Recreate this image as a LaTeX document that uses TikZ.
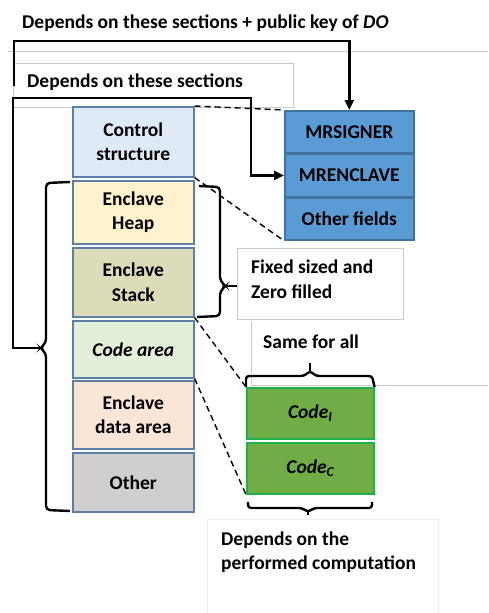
\documentclass[tikz,border=0pt]{standalone}
\usepackage{fontspec}
\setmainfont{Carlito}
\usetikzlibrary{arrows.meta}
\definecolor{secline}{HTML}{5B7FA6}
\definecolor{ctrlfill}{HTML}{DEEBF7}
\definecolor{heapfill}{HTML}{FFF2CC}
\definecolor{stackfill}{HTML}{DDDCBA}
\definecolor{codefill}{HTML}{E2EFDA}
\definecolor{datafill}{HTML}{FBE5D6}
\definecolor{otherfill}{HTML}{D0CECE}
\definecolor{sigfill}{HTML}{5B9BD5}
\definecolor{sigline}{HTML}{41719C}
\definecolor{greenfill}{HTML}{70AD47}
\definecolor{greenline}{HTML}{1FB04B}
\definecolor{frame}{HTML}{C8C8C8}
\tikzset{
  lbl/.style={font=\bfseries\fontsize{19.5}{24.5}\selectfont},
  section/.style={draw=secline, line width=1.6pt, align=center, inner sep=0pt,
    minimum width=121pt, lbl},
  sigbox/.style={draw=sigline, fill=sigfill, line width=1.6pt, align=center, inner sep=0pt,
    minimum width=129pt, minimum height=42pt, lbl},
  codebox/.style={draw=greenline, fill=greenfill, line width=1.6pt, inner sep=0pt,
    minimum width=127pt, minimum height=51pt, lbl},
  conn/.style={line width=2.4pt},
  tip/.style={-{Triangle[length=10pt,width=9pt]}},
  brace/.style={line width=2.4pt, rounded corners=4pt},
  dashlink/.style={line width=1.4pt, dash pattern=on 6pt off 4pt},
  textframe/.style={draw=frame, line width=0.8pt, fill=white},
  note/.style={lbl, align=left, anchor=west, inner sep=0pt}
}
\begin{document}
\begin{tikzpicture}[x=1pt,y=-1pt]
\useasboundingbox (0,0) rectangle (488,613);

% faint frames of the surrounding text boxes
\draw[frame, line width=0.8pt] (8,51) -- (488,51);
\draw[textframe] (13,63) rectangle (293,107);
\draw[textframe] (237,248) rectangle (403,319);
\draw[frame, line width=0.8pt] (251,322) -- (251,385) -- (488,385);
\draw[draw=black!7, line width=0.8pt] (207,613) -- (207,519) -- (438,519) -- (438,613);

% enclave memory sections
\node[section, fill=ctrlfill,  minimum height=70pt, anchor=north west] (ctrl)  at (72,106) {Control\\structure};
\node[section, fill=heapfill,  minimum height=63pt, anchor=north west] (heap)  at (72,180) {Enclave\\Heap};
\node[section, fill=stackfill, minimum height=69pt, anchor=north west] (stack) at (72,247) {Enclave\\Stack};
\node[section, fill=codefill,  minimum height=57pt, anchor=north west] (code)  at (72,320) {\itshape Code area};
\node[section, fill=datafill,  minimum height=68pt, anchor=north west] (data)  at (72,380) {Enclave\\data area};
\node[section, fill=otherfill, minimum height=59pt, anchor=north west] (other) at (72,452) {Other};

% SIGSTRUCT fields
\node[sigbox, anchor=north west] (sig) at (284,110) {MRSIGNER};
\node[sigbox, anchor=north] (enc) at (sig.south) {MRENCLAVE};
\node[sigbox, anchor=north] (oth) at (enc.south) {Other fields};

% code parts
\node[codebox, anchor=north west] (ci) at (246,387) {\itshape Code\textsubscript{\itshape I}};
\node[codebox, anchor=north west] (cc) at (246,442) {\itshape Code\textsubscript{\itshape C}};

% labels
\node[note] (t1) at (22,23) {Depends on these sections + public key of \textit{DO}};
\node[note] (t2) at (27,82) {Depends on these sections};
\node[note] (t3) at (251,279) {Fixed sized and\\Zero filled};
\node[note] (t4) at (263,342) {Same for all};
\node[note] (t5) at (221,552) {Depends on the\\performed computation};

% braces
\draw[brace] (70,182) -- (46,183) -- (46,343) -- (40,348) -- (46,353) -- (46,510) -- (70,511);
\coordinate (lbtip) at (40,348);
\draw[brace] (199,186) -- (220,187) -- (220,281) -- (226,286) -- (220,291) -- (220,316) -- (197,317);
\draw[conn] (226,286) -- (237,286);
\draw[brace, rounded corners=3pt] (ci.north west) -- (246,376) -- (304,376) -- (310,371) -- (316,376) -- (372,376) -- (ci.north east);
\draw[conn] (310,371) -- (310,363);
\draw[brace, rounded corners=3pt] (248,502) -- (248,508) -- (302,508) -- (308,512) -- (314,508) -- (372,508) -- (372,502);
\draw[conn] (308,512) -- (308,515);

% connectors to the measurement fields
\coordinate (outerend) at (14,86);
\draw[conn, tip] (outerend) -- (14,41) -| (sig.north);
\draw[conn, tip] (lbtip) -- (13,348) |- (251,98) |- (enc.west);

% dashed zoom lines
\draw[dashlink] (ctrl.north east) -- (sig.north west);
\draw[dashlink] (ctrl.south east) -- (oth.south west);
\draw[dashlink] (stack.south east) -- (ci.north west);
\draw[dashlink] (code.south east) -- (cc.south west);
\end{tikzpicture}
\end{document}
